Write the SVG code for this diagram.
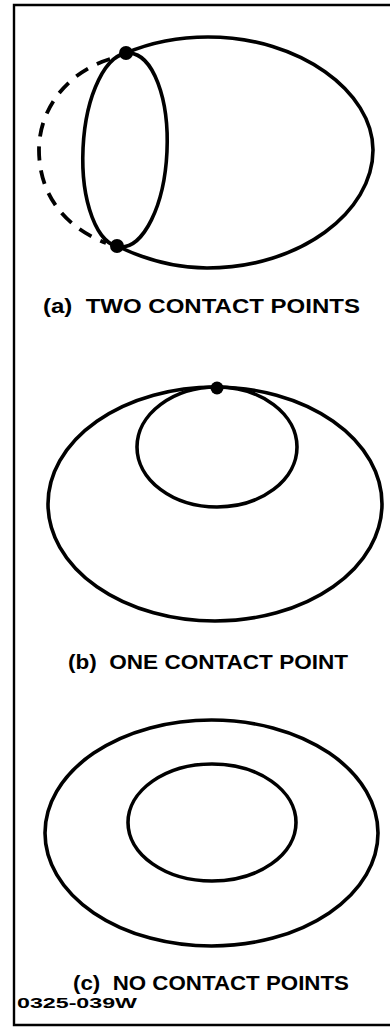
<svg xmlns="http://www.w3.org/2000/svg" width="390" height="1028" viewBox="0 0 390 1028">
<style>
.ln{fill:none;stroke:#000;stroke-width:3.6}
.dash{fill:none;stroke:#000;stroke-width:3.8;stroke-dasharray:14 10}
.lbl{font-family:"Liberation Sans",Arial,sans-serif;font-weight:bold;fill:#000}
</style>
<rect width="390" height="1028" fill="#fff"/>
<g id="frame">
<path d="M390,5 L14,5 L14,1025 L390,1025" fill="none" stroke="#000" stroke-width="2.4"/>
</g>
<g id="panel-a">
<path class="ln" d="M126,53 C152,42 180,37 208,37 C300,37 373,92 373,150 C373,212 300,268 207,268 C172,268 142,258 117,246"/>
<ellipse class="ln" cx="125" cy="150" rx="42" ry="97" transform="rotate(2.7 125 150)"/>
<path class="dash" d="M110,59 C68,72 39,108 39,150 C39,192 62,226 106,243"/>
<circle cx="126" cy="53" r="7"/>
<circle cx="117" cy="246" r="7"/>
<text class="lbl" x="43" y="313" font-size="20" textLength="317" lengthAdjust="spacingAndGlyphs" xml:space="preserve">(a)  TWO CONTACT POINTS</text>
</g>
<g id="panel-b">
<ellipse class="ln" cx="215" cy="504" rx="167" ry="117"/>
<ellipse class="ln" cx="217" cy="447" rx="80" ry="60"/>
<circle cx="217" cy="388" r="6.5"/>
<text class="lbl" x="68" y="669" font-size="20" textLength="280" lengthAdjust="spacingAndGlyphs" xml:space="preserve">(b)  ONE CONTACT POINT</text>
</g>
<g id="panel-c">
<ellipse class="ln" cx="211.5" cy="833" rx="166.5" ry="113"/>
<ellipse class="ln" cx="212" cy="822.5" rx="84" ry="58.5"/>
<text class="lbl" x="73" y="990" font-size="20" textLength="276" lengthAdjust="spacingAndGlyphs" xml:space="preserve">(c)  NO CONTACT POINTS</text>
</g>
<text class="lbl" x="17" y="1008" font-size="14.5" textLength="120" lengthAdjust="spacingAndGlyphs">0325-039W</text>
</svg>
